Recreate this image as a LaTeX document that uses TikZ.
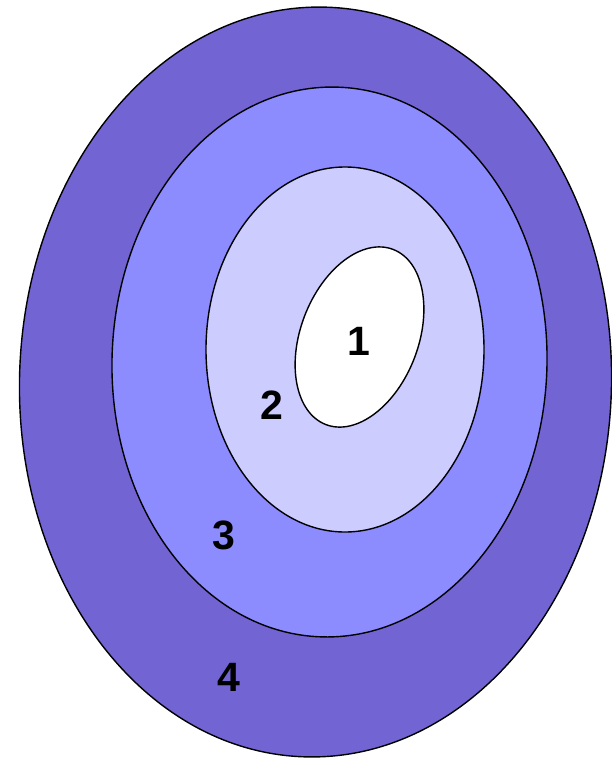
\documentclass[tikz,border=0pt]{standalone}
\usepackage{fontspec}
\setmainfont{Liberation Sans}
\definecolor{ringfour}{HTML}{7364D4}
\definecolor{ringthree}{HTML}{8C8CFF}
\definecolor{ringtwo}{HTML}{CCCCFF}
\begin{document}
\begin{tikzpicture}[x=1pt,y=-1pt,
  ring/.style={draw=black,line width=1.4pt},
  lbl/.style={font=\fontsize{41}{41}\selectfont\bfseries,inner sep=0pt}]
\useasboundingbox (0,0) rectangle (612,758);
\filldraw[ring,fill=ringfour] (315.5,382) [rotate around={-1.5:(315.5,382)}] ellipse [x radius=296, y radius=375];
\filldraw[ring,fill=ringthree] (329.5,362) [rotate around={-1.5:(329.5,362)}] ellipse [x radius=217.5, y radius=275];
\filldraw[ring,fill=ringtwo] (345,349.5) ellipse [x radius=139, y radius=182.5];
\filldraw[ring,fill=white] (359.5,337) [rotate around={-21:(359.5,337)}] ellipse [x radius=58.8, y radius=93.8];
\node[lbl] (n1) at (359,341) {1};
\node[lbl] (n2) at (272,405) {2};
\node[lbl] (n3) at (224,535) {3};
\node[lbl] (n4) at (228.5,677) {4};
\end{tikzpicture}
\end{document}
